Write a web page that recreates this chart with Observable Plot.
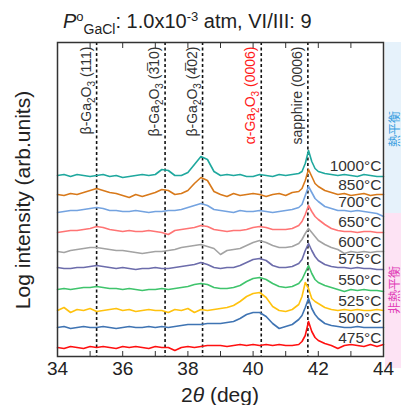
<!DOCTYPE html>
<html>
<head>
<meta charset="utf-8">
<script src="https://cdn.jsdelivr.net/npm/d3@7"></script>
<script src="https://cdn.jsdelivr.net/npm/@observablehq/plot@0.6"></script>
<style>
  html, body { margin: 0; padding: 0; background: #fff; }
  #chart { width: 401px; height: 405px; }
</style>
</head>
<body>
<div id="chart"></div>
<script>
// 2θ grid (deg)
const X = [34.0,34.2,34.4,34.6,34.8,35.0,35.2,35.4,35.6,35.8,36.0,36.2,36.4,36.6,36.8,37.0,37.2,37.4,37.6,37.8,
           38.0,38.2,38.4,38.6,38.8,39.0,39.2,39.4,39.6,39.8,40.0,40.2,40.4,40.6,40.8,41.0,41.2,41.4,
           41.5,41.6,41.7,41.8,41.9,42.0,42.2,42.4,42.6,42.8,43.0,43.2,43.4,43.6,43.8,44.0];

// Series labels, colours and vertical stacking offsets (arb. units)
const temps   = ["1000°C","850°C","700°C","650°C","600°C","575°C","550°C","525°C","500°C","475°C"];
const colors  = ["#1fa89e","#d8791a","#74a3e0","#ff7474","#a3a3a3","#6c6cab","#3fc46c","#ffc20e","#3f74b3","#ff1010"];
const offsets = [181,162,145,125,105,88,67,46,29,9];

// Log intensity above each trace's baseline (arb. units)
const h1000 = [0,1,-1,1,0,-1, 0,1,-1,0, -2,-1,0,1,0, 1,6,5,0,0, 3,11,19,16,4, 0,1,0,1,-1, -1,1,0,-1,1, 0,1,2, 4,12,25,14,7,4, 2,1,0,1,0,-1,1,0,-1,-1];
const h850  = [0,-1,1,0,2,4, 6,4,2,1, -1,-3,0,-2,0, 2,5,4,0,1, 4,11,17,14,3, 0,-2,1,-1,0, 1,0,-2,0,1, -1,2,3, 6,14,25,18,11,8, 4,2,0,1,-1,0,1,-1,0,0];
const h700  = [-1,0,1,1,2,3, 4,3,1,1, 0,0,1,0,-1, 0,0,1,1,2, 4,6,8,6,2, 1,0,-1,1,0, 0,1,0,-1,0, 1,2,4, 7,16,25,19,13,10, 5,3,1,1,0,1,0,-1,-2,-5];
const h650  = [-1,0,1,1,2,3, 5,4,2,1, 0,1,0,0,1, 0,-1,-3,1,2, 3,4,6,5,2, 1,0,1,1,2, 4,5,4,2,2, 2,3,6, 10,17,26,20,15,12, 7,3,1,0,0,-1,0,0,-1,-1];
const h600  = [0,-1,1,2,3,4, 4,3,2,1, 1,0,-1,-2,-1, 0,0,1,2,4, 5,6,7,5,3, -3,1,2,3,6, 9,11,9,6,4, 4,5,8, 12,18,23,19,15,11, 7,4,2,-2,0,-1,0,-1,0,0];
const h575  = [1,0,0,1,1,2, 3,2,1,0, 1,0,-1,0,0, 1,0,0,1,2, 3,4,6,4,1, 0,1,1,3,6, 9,10,8,3,1, 1,2,5, 9,18,25,18,12,8, 4,2,1,1,0,1,0,0,-1,-1];
const h550  = [0,1,0,1,2,2, 3,2,1,1, 0,1,0,-1,0, 0,1,0,1,2, 3,5,6,5,2, 1,1,2,4,8, 11,12,10,6,3, 2,3,6, 10,17,24,16,10,7, 4,2,0,-2,0,-1,0,-1,-1,-2];
const h525  = [0,3,-2,1,0,2, -1,0,1,2, 0,1,-1,0,1, 0,0,-2,1,0, 2,-2,1,0,1, 2,3,5,9,14, 17,18,13,4,0, -1,1,6, 14,28,22,12,9,7, 3,1,0,1,0,1,0,0,1,0];
const h500  = [0,1,-1,0,1,0, 0,1,0,-1, 0,1,0,0,1, 0,1,0,1,2, 3,3,3,4,4, 4,5,6,9,13, 15,15,11,4,-1, 1,3,8, 12,20,29,19,13,9, 4,2,1,0,0,1,0,0,0,0];
const h475  = [0,-1,1,0,-1,1, 0,1,0,-1, 1,0,1,0,-1, 1,0,0,-3,0, 1,0,1,2,2, 2,1,2,3,2, 3,2,3,2,3, 2,2,3, 6,12,26,16,10,7, 4,2,-1,2,3,2,1,3,1,3];
const heights = [h1000,h850,h700,h650,h600,h575,h550,h525,h500,h475];

// Reference peak positions and labels ("_n" marks a subscript)
const peakPos    = [35.2, 37.3, 38.45, 40.25, 41.68];
const peakLabels = ["β-Ga_2O_3 (111)", "β-Ga_2O_3 (3\u030510)", "β-Ga_2O_3 (4\u030502)", "α-Ga_2O_3 (0006)", "sapphire (0006)"];
const peakColors = ["#333","#333","#333","#ff1a1a","#333"];

const xTicks = [34,35,36,37,38,39,40,41,42,43,44];
const xLabels = [34,36,38,40,42,44];

const rows = [];
heights.forEach((h, s) => h.forEach((v, i) => rows.push({series: temps[s], color: colors[s], x: X[i], y: offsets[s] + v})));
const peaks = peakPos.map((p, i) => ({pos: p, label: peakLabels[i], color: peakColors[i]}));
const tlab = temps.map((t, i) => ({t, y: offsets[i] + 9}));

const FONT = "'Liberation Sans', Arial, sans-serif";

const plot = Plot.plot({
  width: 401, height: 405,
  marginTop: 42, marginRight: 18, marginBottom: 49, marginLeft: 57,
  style: {fontFamily: FONT, background: "#fff", color: "#222", overflow: "visible"},
  x: {domain: [34, 44]},
  y: {domain: [0, 314], axis: null},
  marks: [
    Plot.ruleX(peaks, {x: "pos", stroke: "#111", strokeWidth: 1.6, strokeDasharray: "3,2.5"}),
    Plot.line(rows, {x: "x", y: "y", z: "series", stroke: "color", strokeWidth: 1.6}),
    Plot.text(peaks, {x: "pos", text: "label", fill: "color", frameAnchor: "top", rotate: -90,
                      textAnchor: "end", dx: -16, dy: 4, fontSize: 14, fontFamily: FONT}),
    Plot.text(tlab, {frameAnchor: "right", y: "y", text: "t", textAnchor: "end", dx: -2,
                     fontSize: 15.5, fill: "#333", fontFamily: FONT}),
    Plot.axisX({anchor: "bottom", ticks: xTicks, tickSize: -5, tickFormat: () => "", label: null, stroke: "#333"}),
    Plot.axisX({anchor: "top", ticks: xTicks, tickSize: -5, tickFormat: () => "", label: null, stroke: "#333"}),
    Plot.axisX({anchor: "bottom", ticks: xLabels, tickSize: 0, tickPadding: 5, label: null,
                fontSize: 19, fill: "#222", fontFamily: FONT}),
    Plot.frame({stroke: "#333", strokeWidth: 1.5})
  ]
});

document.getElementById("chart").appendChild(plot);
const svg = d3.select(plot.tagName.toLowerCase() === "svg" ? plot : plot.querySelector("svg"));

// turn "_n" markers into real subscripts
svg.selectAll("text").each(function() {
  const t = this.textContent;
  if (!t.includes("_") || this.children.length > 0) return;
  const parts = t.split(/_(\d)/);
  const el = d3.select(this);
  this.textContent = "";
  parts.forEach((p, i) => {
    if (i % 2 === 1) {
      el.append("tspan").attr("font-size", 10).attr("dy", 4).text(p);
    } else if (p) {
      el.append("tspan").attr("dy", i > 0 ? -4 : null).text(p);
    }
  });
});

// Equilibrium bands on the right (behind everything)
const bands = svg.insert("g", ":first-child");
bands.append("rect").attr("x", 385).attr("y", 42).attr("width", 16).attr("height", 171).attr("fill", "#e6f2fb");
bands.append("rect").attr("x", 385).attr("y", 213).attr("width", 16).attr("height", 155).attr("fill", "#fde3f4");
bands.append("text").attr("transform", "translate(393,129) rotate(-90)").attr("text-anchor", "middle")
   .attr("dominant-baseline", "central").attr("font-size", 12).attr("fill", "#3a9ee0")
   .attr("font-family", "'Noto Sans CJK JP', sans-serif").text("熱平衡");
bands.append("text").attr("transform", "translate(393,290) rotate(-90)").attr("text-anchor", "middle")
   .attr("dominant-baseline", "central").attr("font-size", 12).attr("fill", "#e03cb6")
   .attr("font-family", "'Noto Sans CJK JP', sans-serif").text("非熱平衡");

// Title
const title = svg.append("text").attr("x", 63).attr("y", 28).attr("font-size", 20)
   .attr("text-anchor", "start").attr("font-family", FONT).attr("fill", "#222");
title.append("tspan").attr("font-style", "italic").text("P");
title.append("tspan").attr("font-size", 13).attr("dy", -7).text("o");
title.append("tspan").attr("font-size", 14).attr("dy", 13).text("GaCl");
title.append("tspan").attr("dy", -6).text(": 1.0x10");
title.append("tspan").attr("font-size", 13).attr("dy", -7).text("-3");
title.append("tspan").attr("dy", 7).text(" atm, VI/III: 9");

// Axis titles
const xt = svg.append("text").attr("x", 220).attr("y", 402).attr("text-anchor", "middle")
   .attr("font-size", 21).attr("font-family", FONT).attr("fill", "#222");
xt.append("tspan").text("2");
xt.append("tspan").attr("font-style", "italic").text("θ");
xt.append("tspan").text(" (deg)");

svg.append("text").attr("transform", "translate(22,200) rotate(-90)").attr("text-anchor", "middle")
   .attr("dominant-baseline", "central").attr("font-size", 21).attr("font-family", FONT)
   .attr("fill", "#222").text("Log intensity (arb.units)");
</script>
</body>
</html>
